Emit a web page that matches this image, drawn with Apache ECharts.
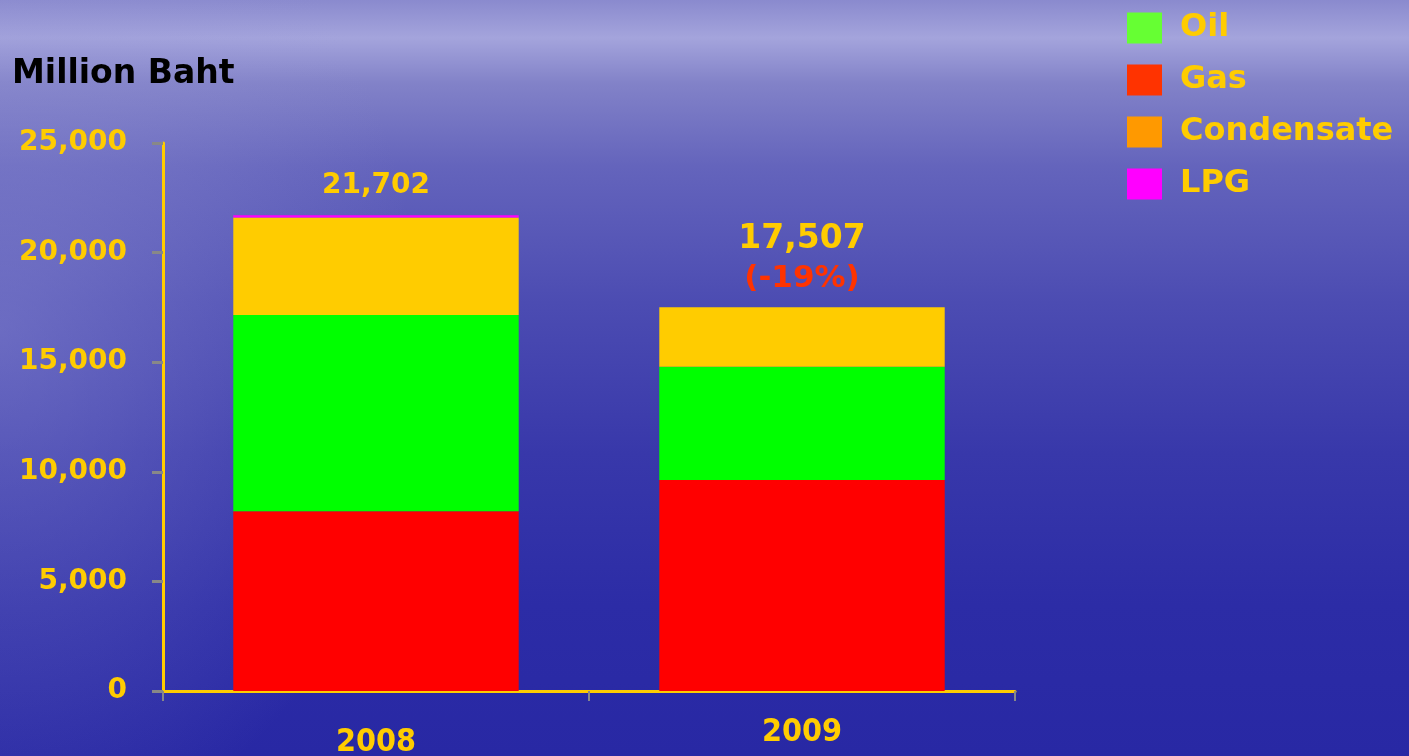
<!DOCTYPE html>
<html>
<head>
<meta charset="utf-8">
<title>Million Baht</title>
<script src="https://cdn.jsdelivr.net/npm/echarts@6/dist/echarts.min.js"></script>
<style>
  html, body {
    margin: 0;
    padding: 0;
    width: 1409px;
    height: 756px;
    overflow: hidden;
  }
  body {
    background:
      radial-gradient(ellipse 420px 520px at 0px 330px, rgba(150, 150, 215, 0.45), rgba(150, 150, 215, 0) 100%),
      linear-gradient(to bottom, #8a8ace 0%, #a4a4dc 5%, #8282c8 11%, #6464bc 22%, #4c4cb2 40%, #3838aa 60%, #2c2ca6 80%, #2828a4 100%);
  }
  #main {
    width: 1409px;
    height: 756px;
  }
</style>
</head>
<body>
<div id="main"></div>
<script>
  // 数据
  var years = ["2008", "2009"];
  var gas = [8200, 9630];
  var oil = [8950, 5160];
  var condensate = [4450, 2717];
  var lpg = [102, 0];
  var yMin = 0;
  var yMax = 25000;
  var yInterval = 5000;

  var yellow = "#FFCC00";
  var fontMain = "DejaVu Sans";

  // 合计 + 变化
  var totals = years.map(function (y, i) {
    return gas[i] + oil[i] + condensate[i] + lpg[i];
  });
  var fmt = function (v) {
    return Number(v).toLocaleString("en-US");
  };
  var totalData = totals.map(function (t, i) {
    var text = "{a|" + fmt(t) + "}";
    if (i > 0) {
      var pct = Math.round(((t - totals[i - 1]) / totals[i - 1]) * 100);
      text = "{b|" + fmt(t) + "}\n{c|(" + pct + "%)}";
    }
    return { value: 0, label: { formatter: text } };
  });

  var chart = echarts.init(document.getElementById("main"));
  chart.setOption({
    animation: false,
    backgroundColor: "transparent",
    title: {
      text: "Million Baht",
      left: 12,
      top: 58,
      padding: 0,
      textStyle: {
        color: "#000",
        fontFamily: fontMain,
        fontWeight: "bold",
        fontSize: 33,
      },
    },
    legend: {
      orient: "vertical",
      left: 1127,
      top: 12,
      padding: 0,
      itemWidth: 35,
      itemHeight: 31,
      itemGap: 20,
      icon: "rect",
      textStyle: {
        color: yellow,
        fontFamily: fontMain,
        fontWeight: "bold",
        fontSize: 32,
        lineHeight: 31,
        padding: [0, 0, 0, 13],
      },
      data: [
        { name: "Oil", itemStyle: { color: "#66FF33" } },
        { name: "Gas", itemStyle: { color: "#FF3300" } },
        { name: "Condensate", itemStyle: { color: "#FF9900" } },
        { name: "LPG", itemStyle: { color: "#FF00FF" } },
      ],
    },
    grid: {
      left: 163,
      right: 394,
      top: 143,
      bottom: 65,
      containLabel: false,
      outerBoundsMode: "none",
    },
    xAxis: {
      type: "category",
      data: [
        { value: years[0], textStyle: { padding: [10, 0, 0, 0] } },
        { value: years[1], textStyle: { padding: [0, 0, 0, 0] } },
      ],
      axisLine: { lineStyle: { color: yellow, width: 3 } },
      axisTick: { show: true, length: 10, lineStyle: { color: "#888", width: 2 } },
      axisLabel: {
        color: yellow,
        fontFamily: "DejaVu Sans Condensed",
        fontWeight: "bold",
        fontSize: 32,
        margin: 26,
      },
    },
    yAxis: {
      type: "value",
      min: yMin,
      max: yMax,
      interval: yInterval,
      axisLine: { show: true, lineStyle: { color: yellow, width: 3 } },
      axisTick: { show: true, length: 11, lineStyle: { color: "#888", width: 3 } },
      splitLine: { show: false },
      axisLabel: {
        color: yellow,
        fontFamily: fontMain,
        fontWeight: "bold",
        fontSize: 28,
        margin: 36,
        padding: [6, 0, 0, 0],
        formatter: fmt,
      },
    },
    series: [
      {
        name: "Gas",
        type: "bar",
        stack: "a",
        barWidth: "67%",
        itemStyle: { color: "#FF0000" },
        data: gas,
      },
      {
        name: "Oil",
        type: "bar",
        stack: "a",
        itemStyle: { color: "#00FF00" },
        data: oil,
      },
      {
        name: "Condensate",
        type: "bar",
        stack: "a",
        itemStyle: { color: "#FFCC00" },
        data: condensate,
      },
      {
        name: "LPG",
        type: "bar",
        stack: "a",
        itemStyle: { color: "#FF00FF" },
        data: lpg,
      },
      {
        // 合计标签
        name: "Total",
        type: "bar",
        stack: "a",
        itemStyle: { color: "transparent" },
        label: {
          show: true,
          position: "top",
          distance: 13,
          rich: {
            a: { color: yellow, fontFamily: fontMain, fontWeight: "bold", fontSize: 28, lineHeight: 34 },
            b: { color: yellow, fontFamily: fontMain, fontWeight: "bold", fontSize: 33, lineHeight: 50 },
            c: { color: "#FF3300", fontFamily: fontMain, fontWeight: "bold", fontSize: 31, lineHeight: 30 },
          },
        },
        data: totalData,
      },
    ],
  });
  window.onresize = function () {
    chart.resize();
  };
</script>
</body>
</html>
